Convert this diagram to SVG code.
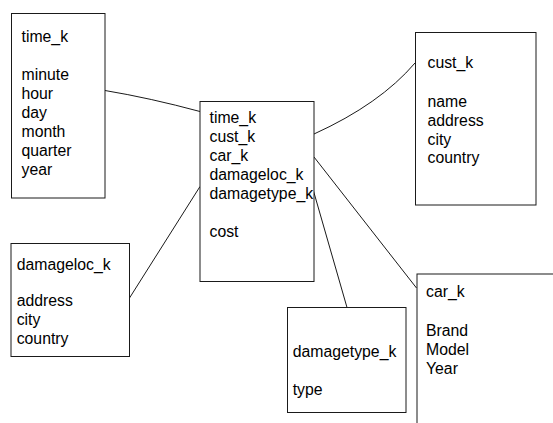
<svg xmlns="http://www.w3.org/2000/svg" width="553" height="423" viewBox="0 0 553 423">
<style>
.box{fill:#fff;stroke:#1a1a1a;stroke-width:1}
.c{fill:none;stroke:#1a1a1a;stroke-width:1}
text{font-family:"Liberation Sans",Arial,sans-serif;font-size:15.8px;fill:#000}
</style>
<rect width="553" height="423" fill="#fff"/>
<g id="connectors">
<path class="c" d="M105,90.5 Q150,98 200,111.5"/>
<path class="c" d="M314,134 Q380,104 415,63"/>
<path class="c" d="M314,157 L416.5,288"/>
<path class="c" d="M313.5,191 L347,307.5"/>
<path class="c" d="M200,186.5 L129.5,298"/>
</g>
<g id="time">
<rect class="box" x="11.5" y="13.5" width="93.5" height="184.5"/>
<text x="21.5" y="41.8">time_k</text>
<text x="21.5" y="80">minute</text>
<text x="21.5" y="99">hour</text>
<text x="21.5" y="118">day</text>
<text x="21.5" y="137">month</text>
<text x="21.5" y="156">quarter</text>
<text x="21.5" y="175">year</text>
</g>
<g id="fact">
<rect class="box" x="200" y="101.5" width="114" height="180"/>
<text x="209.5" y="122.5">time_k</text>
<text x="209.5" y="141.5">cust_k</text>
<text x="209.5" y="160.5">car_k</text>
<text x="209.5" y="179.5">damageloc_k</text>
<text x="209.5" y="198.5">damagetype_k</text>
<text x="209.5" y="236.5">cost</text>
</g>
<g id="cust">
<rect class="box" x="415.5" y="32.5" width="120.5" height="172.5"/>
<text x="427.5" y="68">cust_k</text>
<text x="427.5" y="106.5">name</text>
<text x="427.5" y="125.5">address</text>
<text x="427.5" y="144.5">city</text>
<text x="427.5" y="163">country</text>
</g>
<g id="damageloc">
<rect class="box" x="11" y="243.5" width="118.5" height="113"/>
<text x="16.7" y="269.5">damageloc_k</text>
<text x="16.7" y="305.5">address</text>
<text x="16.7" y="324.5">city</text>
<text x="16.7" y="343.5">country</text>
</g>
<g id="damagetype">
<rect class="box" x="287.5" y="307.5" width="118.5" height="105"/>
<text x="292.7" y="357.3">damagetype_k</text>
<text x="292.7" y="395.3">type</text>
</g>
<g id="car">
<rect class="box" x="417" y="274" width="200" height="200"/>
<text x="426" y="297.3">car_k</text>
<text x="426" y="336">Brand</text>
<text x="426" y="355">Model</text>
<text x="426" y="374">Year</text>
</g>
</svg>
